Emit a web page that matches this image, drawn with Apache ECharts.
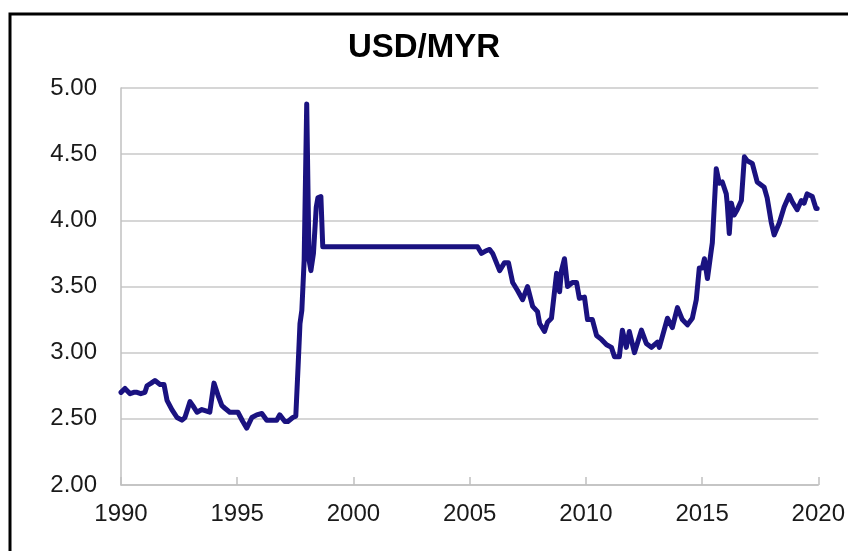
<!DOCTYPE html>
<html>
<head>
<meta charset="utf-8">
<script src="https://cdn.jsdelivr.net/npm/echarts@6/dist/echarts.min.js"></script>
<style>
html,body{margin:0;padding:0;background:#fff;}
#chart{width:848px;height:551px;}
</style>
</head>
<body>
<div id="chart"></div>
<script>
var chartTitle = 'USD/MYR';
var xTicks = [1990, 1995, 2000, 2005, 2010, 2015, 2020];
var yTicks = [2.00, 2.50, 3.00, 3.50, 4.00, 4.50, 5.00];

var years = [
  1990.00, 1990.17, 1990.39, 1990.55, 1990.69, 1990.85, 1991.03, 1991.12, 1991.30, 1991.46,
  1991.68, 1991.85, 1991.98, 1992.19, 1992.41, 1992.62, 1992.75, 1992.97, 1993.09, 1993.27,
  1993.48, 1993.82, 1994.00, 1994.17, 1994.34, 1994.47, 1994.68, 1995.03, 1995.24, 1995.41,
  1995.63, 1995.84, 1996.06, 1996.27, 1996.70, 1996.83, 1997.05, 1997.18, 1997.39, 1997.52,
  1997.62, 1997.70, 1997.78, 1997.88, 1997.99, 1998.09, 1998.17, 1998.28, 1998.40, 1998.47,
  1998.60, 1998.68, 2005.34, 2005.51, 2005.70, 2005.86, 2005.99, 2006.29, 2006.50, 2006.67,
  2006.85, 2007.06, 2007.28, 2007.49, 2007.71, 2007.92, 2008.01, 2008.22, 2008.35, 2008.52,
  2008.74, 2008.87, 2008.95, 2009.08, 2009.21, 2009.42, 2009.60, 2009.72, 2009.94, 2010.07,
  2010.28, 2010.46, 2010.67, 2010.89, 2011.10, 2011.23, 2011.44, 2011.57, 2011.74, 2011.87,
  2012.09, 2012.39, 2012.60, 2012.82, 2013.08, 2013.16, 2013.51, 2013.72, 2013.94, 2014.15,
  2014.37, 2014.58, 2014.75, 2014.88, 2015.01, 2015.10, 2015.23, 2015.40, 2015.44, 2015.61,
  2015.74, 2015.87, 2016.04, 2016.08, 2016.17, 2016.26, 2016.38, 2016.51, 2016.69, 2016.82,
  2016.94, 2017.16, 2017.37, 2017.67, 2017.80, 2017.98, 2018.10, 2018.32, 2018.53, 2018.75,
  2018.88, 2019.09, 2019.27, 2019.39, 2019.52, 2019.74, 2019.90, 2019.95
];
var rates = [
  2.70, 2.73, 2.69, 2.70, 2.70, 2.69, 2.70, 2.75, 2.77, 2.79,
  2.76, 2.76, 2.64, 2.57, 2.51, 2.49, 2.51, 2.63, 2.60, 2.55,
  2.57, 2.55, 2.77, 2.68, 2.60, 2.58, 2.55, 2.55, 2.48, 2.43,
  2.51, 2.53, 2.54, 2.49, 2.49, 2.53, 2.48, 2.48, 2.51, 2.52,
  2.90, 3.22, 3.32, 3.70, 4.88, 3.70, 3.62, 3.75, 4.10, 4.17,
  4.18, 3.80, 3.80, 3.75, 3.77, 3.78, 3.75, 3.62, 3.68, 3.68,
  3.53, 3.47, 3.40, 3.50, 3.35, 3.31, 3.22, 3.16, 3.23, 3.26,
  3.60, 3.46, 3.62, 3.71, 3.50, 3.53, 3.53, 3.41, 3.42, 3.25,
  3.25, 3.13, 3.10, 3.06, 3.04, 2.97, 2.97, 3.17, 3.04, 3.16,
  3.00, 3.17, 3.07, 3.04, 3.08, 3.04, 3.26, 3.19, 3.34, 3.25,
  3.21, 3.26, 3.40, 3.64, 3.64, 3.71, 3.56, 3.78, 3.83, 4.39,
  4.28, 4.29, 4.20, 4.13, 3.90, 4.13, 4.04, 4.08, 4.15, 4.48,
  4.45, 4.43, 4.29, 4.25, 4.17, 3.98, 3.89, 3.98, 4.10, 4.19,
  4.14, 4.08, 4.15, 4.13, 4.20, 4.18, 4.09, 4.09
];

var seriesData = years.map(function (y, i) { return [y, rates[i]]; });

var chart = echarts.init(document.getElementById('chart'), null, {renderer: 'canvas'});
var FONT = "'Liberation Sans', Arial, sans-serif";
chart.setOption({
  animation: false,
  backgroundColor: '#ffffff',
  title: {
    text: chartTitle,
    left: 'center',
    top: 26,
    textStyle: {fontFamily: FONT, fontSize: 33, fontWeight: 'bold', color: '#000000'}
  },
  graphic: [{
    type: 'rect',
    shape: {x: 10, y: 14, width: 900, height: 600},
    style: {fill: null, stroke: '#000000', lineWidth: 3},
    silent: true
  }],
  grid: {left: 121, right: 29, top: 88, bottom: 66, containLabel: false},
  xAxis: {
    type: 'value',
    min: xTicks[0],
    max: xTicks[xTicks.length - 1],
    interval: 5,
    axisLine: {show: true, lineStyle: {color: '#c0c0c0', width: 1.5}},
    axisTick: {show: true, inside: true, length: 8, lineStyle: {color: '#c0c0c0', width: 1.5}},
    splitLine: {show: false},
    axisLabel: {
      fontFamily: FONT, fontSize: 24, color: '#1a1a1a', margin: 17,
      formatter: function (v) { return String(v); }
    }
  },
  yAxis: {
    type: 'value',
    min: yTicks[0],
    max: yTicks[yTicks.length - 1],
    interval: 0.5,
    axisLine: {show: true, lineStyle: {color: '#c0c0c0', width: 1.5}},
    axisTick: {show: false},
    splitLine: {show: true, lineStyle: {color: '#c8c8c8', width: 1.5}},
    axisLabel: {
      fontFamily: FONT, fontSize: 24, color: '#1a1a1a', margin: 24,
      formatter: function (v) { return v.toFixed(2); }
    }
  },
  series: [{
    type: 'line',
    data: seriesData,
    showSymbol: false,
    symbol: 'none',
    lineStyle: {color: '#1a1280', width: 5, join: 'round', cap: 'round'}
  }]
});
</script>
</body>
</html>
